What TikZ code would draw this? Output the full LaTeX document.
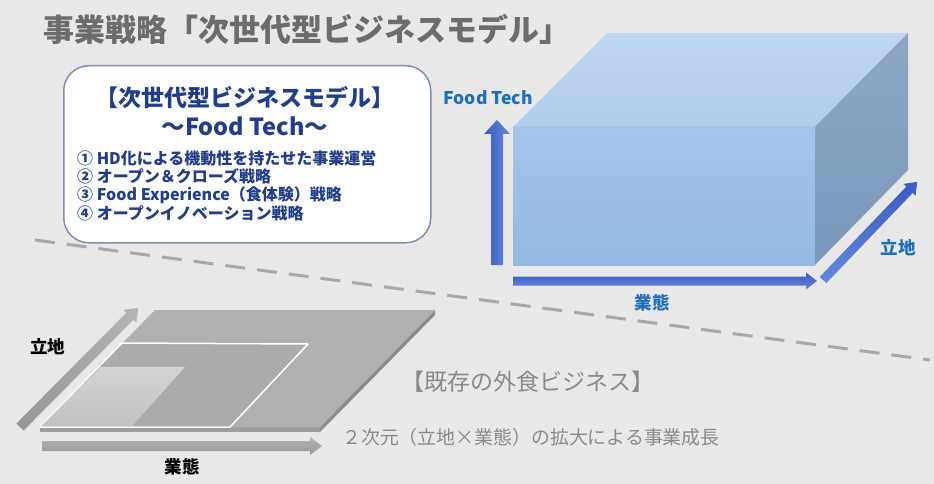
\documentclass[tikz,border=0pt]{standalone}
\usepackage{fontspec}
\newfontfamily\jp{Noto Sans CJK JP}
\definecolor{bg}{RGB}{232,232,232}
\definecolor{titlegray}{RGB}{108,108,108}
\definecolor{navy}{RGB}{32,62,140}
\definecolor{boxborder}{RGB}{128,143,176}
\definecolor{lblue}{RGB}{30,110,190}
\definecolor{ctopA}{RGB}{192,214,240}
\definecolor{ctopB}{RGB}{178,204,236}
\definecolor{cfrontA}{RGB}{166,196,233}
\definecolor{cfrontB}{RGB}{146,185,227}
\definecolor{csideA}{RGB}{142,166,196}
\definecolor{csideB}{RGB}{122,153,188}
\definecolor{barA}{RGB}{58,92,196}
\definecolor{barB}{RGB}{100,136,220}
\definecolor{garA}{RGB}{150,150,150}
\definecolor{garB}{RGB}{180,180,180}
\definecolor{softgray}{RGB}{138,138,138}
\definecolor{dashgray}{RGB}{168,168,168}
\newcommand\myarrow[7]{%
  \begin{scope}[shift={(#2)},rotate=#3]
  \shade[#1] (0,-#5) -- ({#4-#7},-#5) -- ({#4-#7},-#6) -- (#4,0) -- ({#4-#7},#6) -- ({#4-#7},#5) -- (0,#5) -- cycle;
  \end{scope}}
\tikzset{
  boxtext/.style={text=navy, inner sep=0},
  bluelbl/.style={text=lblue, inner sep=0, font=\jp\bfseries\fontsize{17.5}{20}\selectfont},
  blacklbl/.style={text=black, inner sep=0, font=\jp\bfseries\fontsize{17.5}{20}\selectfont},
  graytext/.style={text=softgray, inner sep=0, anchor=west},
  listtext/.style={boxtext, anchor=west, font=\jp\bfseries\fontsize{16}{18}\selectfont},
  dashline/.style={draw=dashgray, line width=3pt, dash pattern=on 20pt off 12pt},
  bluearrow/.style={top color=barA, bottom color=barB},
  bluevarrow/.style={left color=barA, right color=barB},
  grayarrow/.style={top color=garB, bottom color=garA},
}
\begin{document}
\begin{tikzpicture}[x=1pt,y=-1pt]
\useasboundingbox (0,0) rectangle (934,484);
\fill[bg] (0,0) rectangle (934,484);

% title
\node[anchor=west, inner sep=0, text=titlegray, font=\jp\bfseries\fontsize{31}{36}\selectfont] (title) at (43,29) {事業戦略「次世代型ビジネスモデル」};

% dashed divider
\coordinate (d1) at (35,240);
\coordinate (d2) at (930,360);
\draw[dashline] (d1) -- (d2);

% rounded box
\node[draw=boxborder, line width=1.5pt, fill=white, rounded corners=25pt, minimum width=367pt, minimum height=177pt, anchor=north west, inner sep=0] (box) at (63,65) {};
\node[boxtext, font=\jp\bfseries\fontsize{23}{28}\selectfont] (h1) at (245,98) {【次世代型ビジネスモデル】};
\node[boxtext, font=\jp\bfseries\fontsize{23.5}{28}\selectfont] (h2) at (245,126) {～Food Tech～};
\node[listtext] (i1) at (77,158) {① HD化による機動性を持たせた事業運営};
\node[listtext] (i2) at (77,176.5) {② オープン＆クローズ戦略};
\node[listtext] (i3) at (77,195) {③ Food Experience（食体験）戦略};
\node[listtext] (i4) at (77,213.5) {④ オープンイノベーション戦略};

% cube
\coordinate (A) at (513,127);
\coordinate (B) at (815,127);
\coordinate (C) at (815,265);
\coordinate (D) at (513,265);
\coordinate (E) at (607,33);
\coordinate (F) at (908,33);
\coordinate (G) at (908,170);
\shade[top color=ctopA, bottom color=ctopB] (A) -- (E) -- (F) -- (B) -- cycle;
\shade[top color=cfrontA, bottom color=cfrontB] (A) -- (B) -- (C) -- (D) -- cycle;
\shade[top color=csideA, bottom color=csideB] (B) -- (F) -- (G) -- (C) -- cycle;

% blue arrows
\myarrow{bluevarrow}{497,265}{90}{145}{6}{13}{14}
\myarrow{bluearrow}{513,281}{0}{304}{4.5}{8.5}{11}
\myarrow{bluearrow}{823,280}{46.2}{136}{4.5}{8.5}{11}
\node[bluelbl] (ft) at (488,98) {Food Tech};
\node[bluelbl] (gt1) at (652,303) {業態};
\node[bluelbl] (rc1) at (898,248) {立地};

% flat slab
\fill[black!38] (40,427) -- (320,427) -- (320,432) -- (40,432) -- cycle;
\fill[black!45] (320,427) -- (435,310) -- (435,315) -- (320,432) -- cycle;
\fill[black!31] (155,310) -- (435,310) -- (320,427) -- (40,427) -- cycle;
\filldraw[fill=black!33, draw=white, line width=1.5pt, line join=round] (122,343) -- (308,344) -- (230,427) -- (40,427) -- cycle;
\shade[top color=black!17, bottom color=black!24] (101,367) -- (185,367) -- (132,426.2) -- (41,426.2) -- cycle;

% gray arrows
\myarrow{grayarrow}{20,427}{45.2}{168}{5}{9}{12}
\myarrow{grayarrow}{42,446}{0}{280}{5}{9}{12}
\node[blacklbl] (rc2) at (48,347) {立地};
\node[blacklbl] (gt2) at (182,467) {業態};

% gray texts
\node[graytext, font=\jp\fontsize{23}{26}\selectfont] (old) at (401,382) {【既存の外食ビジネス】};
\node[graytext, font=\jp\fontsize{18.9}{22}\selectfont] (grow) at (342,437) {２次元（立地×業態）の拡大による事業成長};
\end{tikzpicture}
\end{document}
